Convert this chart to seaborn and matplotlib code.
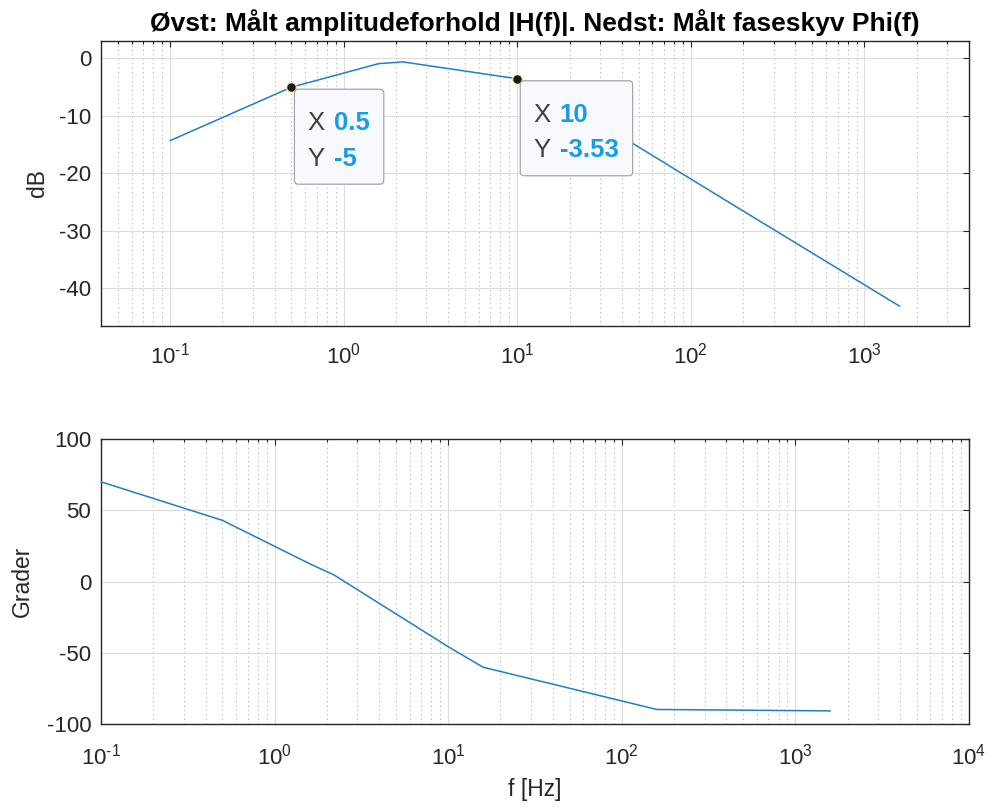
import numpy as np
import pandas as pd
import matplotlib
matplotlib.use("Agg")
import matplotlib.pyplot as plt
import matplotlib.transforms as mtransforms
from matplotlib.patches import FancyBboxPatch
from matplotlib.ticker import LogLocator, NullFormatter, FuncFormatter
import seaborn as sns

# ---- data ----
freq_mag = [0.1, 0.5, 1.59, 2.2, 10, 15.9, 159, 1592]
mag_db = [-14.3, -5.0, -0.9, -0.6, -3.53, -6.2, -24.7, -43.1]
freq_phase = [0.1, 0.5, 1.59, 2.2, 10, 15.9, 159, 1592]
phase_deg = [70.0, 43.0, 12.6, 4.7, -45.6, -60.0, -89.6, -90.6]
tip_x = [0.5, 10]
tip_y = [-5, -3.53]
tip_labels_x = ["0.5", "10"]
tip_labels_y = ["-5", "-3.53"]

title = "Øvst: Målt amplitudeforhold |H(f)|. Nedst: Målt faseskyv Phi(f)"

sns.set_theme(style="white")
plt.rcParams["font.family"] = ["Liberation Sans", "DejaVu Sans"]
plt.rcParams["mathtext.fontset"] = "custom"
plt.rcParams["mathtext.rm"] = "Liberation Sans"
plt.rcParams["mathtext.it"] = "Liberation Sans:italic"
plt.rcParams["mathtext.bf"] = "Liberation Sans:bold"
plt.rcParams["axes.unicode_minus"] = False

AX = "#262626"
LINE = "#1f7fc4"

fig = plt.figure(figsize=(9.92, 8.10), dpi=100)
ax1 = fig.add_axes([0.1018, 0.5979, 0.875, 0.3519])
ax2 = fig.add_axes([0.1018, 0.1058, 0.875, 0.3522])

df_mag = pd.DataFrame({"f": freq_mag, "dB": mag_db})
df_ph = pd.DataFrame({"f": freq_phase, "deg": phase_deg})

for ax in (ax1, ax2):
    ax.set_xscale("log")

sns.lineplot(data=df_mag, x="f", y="dB", ax=ax1, color=LINE, lw=1.1, zorder=3)
sns.lineplot(data=df_ph, x="f", y="deg", ax=ax2, color=LINE, lw=1.1, zorder=3)

ax1.set_xlim(0.04, 4000)
ax1.set_ylim(-46.5, 3.1)
ax1.set_yticks([-40, -30, -20, -10, 0])
ax2.set_xlim(0.1, 10000)
ax2.set_ylim(-100, 100)
ax2.set_yticks([-100, -50, 0, 50, 100])


def pow10_label(v, pos):
    e = int(round(np.log10(v)))
    return r"$\mathdefault{10^{\text{%d}}}$" % e


for ax, xpad in ((ax1, 12.0), (ax2, 14.0)):
    ax.set_axisbelow(True)
    ax.xaxis.set_major_locator(LogLocator(base=10, numticks=20))
    ax.xaxis.set_major_formatter(FuncFormatter(pow10_label))
    ax.xaxis.set_minor_locator(LogLocator(base=10, subs=np.arange(2, 10), numticks=20))
    ax.xaxis.set_minor_formatter(NullFormatter())
    ax.grid(True, which="major", axis="both", color="#dcdcdc", lw=0.8, ls="-")
    ax.grid(True, which="minor", axis="x", color="#b3b3b3", lw=0.8, ls=(0, (1, 3)))
    for s in ax.spines.values():
        s.set_color(AX)
        s.set_linewidth(1.0)
        s.set_visible(True)
    ax.tick_params(which="both", direction="in", top=True, right=True,
                   color=AX, labelcolor=AX, labelsize=16, width=0.8)
    ax.tick_params(which="major", length=4.0)
    ax.tick_params(which="minor", length=2.2)
    ax.tick_params(axis="x", which="major", pad=xpad)
    ax.tick_params(axis="y", which="major", pad=7)
    ax.set_xlabel("")
    ax.set_ylabel("")

ax1.set_title(title, fontsize=19, fontweight="bold", color="black", pad=7.0)
ax1.set_ylabel("dB", fontsize=16.5, color=AX, va="center")
ax1.yaxis.set_label_coords(-0.073, 0.5)
ax2.set_ylabel("Grader", fontsize=16.5, color=AX, va="center")
ax2.yaxis.set_label_coords(-0.090, 0.5)
ax2.set_xlabel("f [Hz]", fontsize=16.5, color=AX, va="center")
ax2.xaxis.set_label_coords(0.5, -0.23)

# ---- data tips ----
fig.canvas.draw()
renderer = fig.canvas.get_renderer()
for xv, yv, lx, ly in zip(tip_x, tip_y, tip_labels_x, tip_labels_y):
    ax1.plot([xv], [yv], marker="o", ms=7, mfc="#1a1a1a", mec="#f3eea0",
             mew=0.9, zorder=6, ls="none")
    tr = mtransforms.IdentityTransform() + mtransforms.ScaledTranslation(xv, yv, ax1.transData)
    t_texts = []
    for lab, val, dy in (("X", lx, -43.0), ("Y", ly, -78.7)):
        ax1.text(16, dy, lab, transform=tr, fontsize=18.5, color="#404040",
                 va="baseline", ha="left", zorder=8, clip_on=False)
        t = ax1.text(42.5, dy, val, transform=tr, fontsize=18.5, color="#1a9be6",
                     fontweight="bold", va="baseline", ha="left", zorder=8, clip_on=False)
        t_texts.append(t)
    fig.canvas.draw()
    wmax = max(t.get_window_extent(renderer).width for t in t_texts)
    width = 42.5 + wmax + 14 - 3
    box = FancyBboxPatch((3, -97), width, 95,
                         boxstyle="round,pad=0,rounding_size=4",
                         transform=tr, fc="#f8f9fc", ec="#a6a6a6", lw=0.9,
                         zorder=7, clip_on=False)
    ax1.add_patch(box)

fig.savefig("out.png", dpi=100)
